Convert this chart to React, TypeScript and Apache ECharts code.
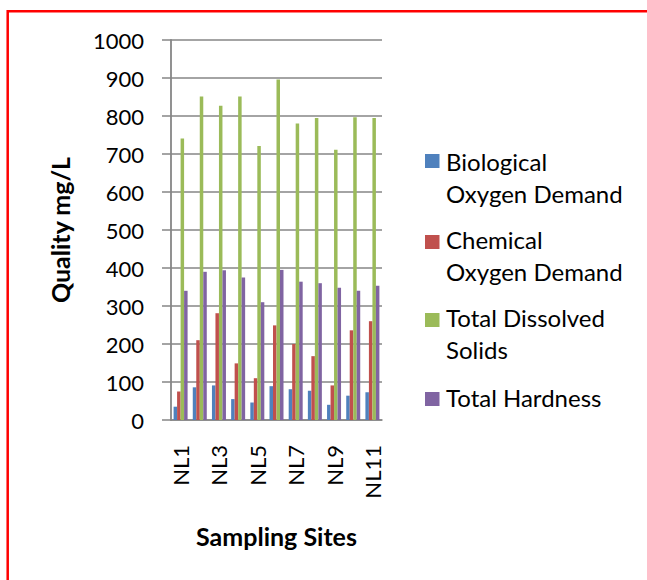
import React, { useEffect, useRef } from "react";
import * as echarts from "echarts";

const categories = ["NL1", "NL2", "NL3", "NL4", "NL5", "NL6", "NL7", "NL8", "NL9", "NL10", "NL11"];
const bod = [35, 86, 91, 55, 46, 89, 81, 77, 40, 64, 73];
const cod = [75, 210, 281, 149, 110, 249, 200, 168, 91, 236, 260];
const tds = [741, 851, 827, 851, 721, 896, 780, 795, 711, 797, 795];
const hardness = [340, 390, 394, 375, 310, 395, 364, 360, 348, 340, 353];
const seriesNames = [
  "Biological Oxygen Demand",
  "Chemical Oxygen Demand",
  "Total Dissolved Solids",
  "Total Hardness",
];
const legendLines = [
  "Biological\nOxygen Demand",
  "Chemical\nOxygen Demand",
  "Total Dissolved\nSolids",
  "Total Hardness",
];
const colors = ["#4F81BD", "#C0504D", "#9BBB59", "#8064A2"];

const FONT = "Lato, 'DejaVu Sans', sans-serif";
const GRID = "#868686";

export default function App() {
  const ref = useRef<HTMLDivElement>(null);
  useEffect(() => {
    if (!ref.current) return;
    const chart = echarts.init(ref.current, undefined, { renderer: "svg" });
    const data = [bod, cod, tds, hardness];
    const legendTops = [145, 223.5, 301.5, 381];
    const markerTops = [154, 235, 313, 392];
    const graphics: any[] = [
      {
        type: "rect",
        silent: true,
        shape: { x: 7.7, y: 11.2, width: 700, height: 650 },
        style: { fill: "none", stroke: "#ff0000", lineWidth: 2.5 },
      },
    ];
    legendLines.forEach((t, i) => {
      graphics.push({
        type: "rect",
        shape: { x: 425, y: markerTops[i], width: 14.5, height: 14 },
        style: { fill: colors[i] },
      });
      graphics.push({
        type: "text",
        x: 446,
        y: legendTops[i],
        style: {
          text: t,
          fill: "#000",
          fontFamily: FONT,
          fontSize: 24,
          lineHeight: 32,
          verticalAlign: "top",
          align: "left",
        },
      });
    });
    chart.setOption({
      animation: false,
      textStyle: { fontFamily: FONT },
      grid: { left: 171, right: 265, top: 40, bottom: 160, containLabel: false },
      xAxis: {
        type: "category",
        data: categories,
        name: "Sampling Sites",
        nameLocation: "middle",
        nameGap: 103,
        nameTextStyle: { fontFamily: FONT, fontWeight: "bold", fontSize: 25, color: "#000" },
        axisLine: { lineStyle: { color: GRID, width: 1.5 } },
        axisTick: { show: false },
        axisLabel: {
          interval: 1,
          rotate: 90,
          margin: 25,
          fontSize: 22,
          color: "#000",
          fontFamily: FONT,
        },
      },
      yAxis: {
        type: "value",
        min: 0,
        max: 1000,
        interval: 100,
        name: "Quality mg/L",
        nameLocation: "middle",
        nameGap: 99,
        nameTextStyle: { fontFamily: FONT, fontWeight: "bold", fontSize: 25, color: "#000" },
        axisLine: { show: true, lineStyle: { color: GRID, width: 1.8 } },
        axisTick: { show: true, length: 9, lineStyle: { color: GRID, width: 1.5 } },
        splitLine: { lineStyle: { color: GRID, width: 1.5 } },
        axisLabel: {
          fontSize: 22,
          color: "#000",
          margin: 27,
          fontFamily: FONT,
          formatter: (v: number) => String(v),
        },
      },
      series: data.map((d, i) => ({
        name: seriesNames[i],
        type: "bar",
        data: d,
        barGap: "0%",
        barCategoryGap: "27%",
        itemStyle: { color: colors[i] },
      })),
      graphic: graphics,
    });
    return () => chart.dispose();
  }, []);
  return (
    <div
      ref={ref}
      style={{ position: "absolute", left: 0, top: 0, width: 647, height: 580, background: "#fff" }}
    />
  );
}
